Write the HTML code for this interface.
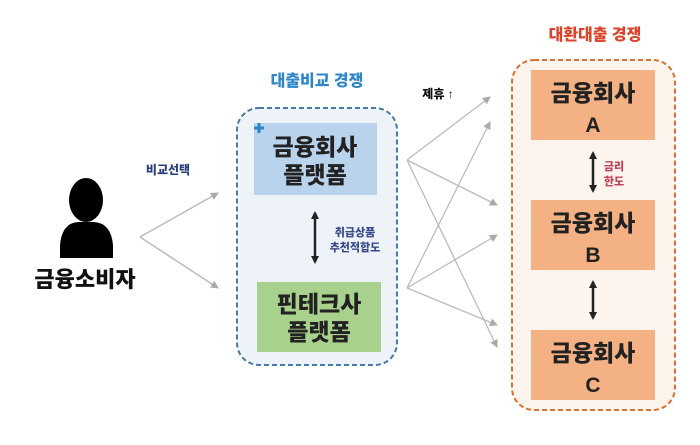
<!DOCTYPE html>
<html><head><meta charset="utf-8"><style>
body{margin:0;background:#fff;}
svg text{font-family:"Liberation Sans","Noto Sans CJK KR",sans-serif;font-weight:900;}
</style></head><body>
<svg width="700" height="440" viewBox="0 0 700 440" xmlns="http://www.w3.org/2000/svg">
<defs>
<marker id="g" markerWidth="8" markerHeight="8" refX="7" refY="4" orient="auto" markerUnits="userSpaceOnUse"><path d="M0,0 L8,4 L0,8 z" fill="#aaa"/></marker>
<marker id="k" markerWidth="8" markerHeight="8" refX="6" refY="4" orient="auto" markerUnits="userSpaceOnUse"><path d="M0,0 L8,4 L0,8 z" fill="#222"/></marker>
<marker id="ks" markerWidth="8" markerHeight="8" refX="2" refY="4" orient="auto" markerUnits="userSpaceOnUse"><path d="M8,0 L0,4 L8,8 z" fill="#222"/></marker>
</defs>
<rect width="700" height="440" fill="#fff"/>
<ellipse cx="86" cy="200" rx="17" ry="22" fill="#000"/>
<path d="M60,258 L60,245 Q62,223 78,222 L94,222 Q111,223 113,245 L113,258 z" fill="#000"/>
<text x="85" y="287" font-size="22" text-anchor="middle" fill="#111">금융소비자</text>
<text x="168" y="174" font-size="12" text-anchor="middle" fill="#2a3f7a">비교선택</text>
<line x1="140" y1="237" x2="218" y2="193" stroke="#bbb" stroke-width="1.5" marker-end="url(#g)"/>
<line x1="140" y1="237" x2="218" y2="288" stroke="#bbb" stroke-width="1.5" marker-end="url(#g)"/>
<text x="317" y="86" font-size="16" text-anchor="middle" fill="#2f86c8">대출비교 경쟁</text>
<rect x="237" y="108" width="160" height="257" rx="22" fill="#eef3fa" stroke="#4a78a8" stroke-width="2" stroke-dasharray="5,3"/>
<rect x="254" y="123" width="123" height="72" fill="#b9d3ec"/>
<path d="M254,128 h10 M259,123 v10" stroke="#2f86c8" stroke-width="3"/>
<text x="315" y="155" font-size="23" text-anchor="middle" fill="#222">금융회사</text>
<text x="315" y="183" font-size="23" text-anchor="middle" fill="#222">플랫폼</text>
<rect x="257" y="282" width="124" height="70" fill="#a9d18e"/>
<text x="319" y="312" font-size="23" text-anchor="middle" fill="#222">핀테크사</text>
<text x="319" y="340" font-size="23" text-anchor="middle" fill="#222">플랫폼</text>
<line x1="315" y1="213" x2="315" y2="262" stroke="#222" stroke-width="2.5" marker-start="url(#ks)" marker-end="url(#k)"/>
<text x="355" y="236" font-size="11" text-anchor="middle" fill="#3a4a8a">취급상품</text>
<text x="355" y="251" font-size="11" text-anchor="middle" fill="#3a4a8a">추천적합도</text>
<g stroke="#bbb" stroke-width="1.3" fill="none">
<line x1="407" y1="160" x2="490" y2="97" marker-end="url(#g)"/>
<line x1="407" y1="160" x2="497" y2="205" marker-end="url(#g)"/>
<line x1="407" y1="160" x2="497" y2="347" marker-end="url(#g)"/>
<line x1="407" y1="288" x2="490" y2="122" marker-end="url(#g)"/>
<line x1="407" y1="288" x2="497" y2="235" marker-end="url(#g)"/>
<line x1="407" y1="288" x2="497" y2="325" marker-end="url(#g)"/>
</g>
<text x="438" y="98" font-size="12" text-anchor="middle" fill="#111">제휴 ↑</text>
<text x="595" y="40" font-size="16" text-anchor="middle" fill="#d9442a">대환대출 경쟁</text>
<rect x="512" y="60" width="163" height="350" rx="22" fill="#fdf4ee" stroke="#d9722e" stroke-width="2" stroke-dasharray="5,3"/>
<rect x="531" y="70" width="124" height="70" fill="#f4b183"/>
<text x="593" y="101" font-size="23" text-anchor="middle" fill="#222">금융회사</text>
<text x="593" y="132" font-size="21" text-anchor="middle" fill="#222">A</text>
<rect x="531" y="200" width="124" height="70" fill="#f4b183"/>
<text x="593" y="231" font-size="23" text-anchor="middle" fill="#222">금융회사</text>
<text x="593" y="262" font-size="21" text-anchor="middle" fill="#222">B</text>
<rect x="531" y="330" width="124" height="70" fill="#f4b183"/>
<text x="593" y="361" font-size="23" text-anchor="middle" fill="#222">금융회사</text>
<text x="593" y="392" font-size="21" text-anchor="middle" fill="#222">C</text>
<line x1="593" y1="153" x2="593" y2="191" stroke="#222" stroke-width="2.5" marker-start="url(#ks)" marker-end="url(#k)"/>
<line x1="593" y1="282" x2="593" y2="318" stroke="#222" stroke-width="2.5" marker-start="url(#ks)" marker-end="url(#k)"/>
<text x="614" y="170" font-size="11" text-anchor="middle" fill="#c0405a">금리</text>
<text x="614" y="185" font-size="11" text-anchor="middle" fill="#c0405a">한도</text>
</svg>
</body></html>
